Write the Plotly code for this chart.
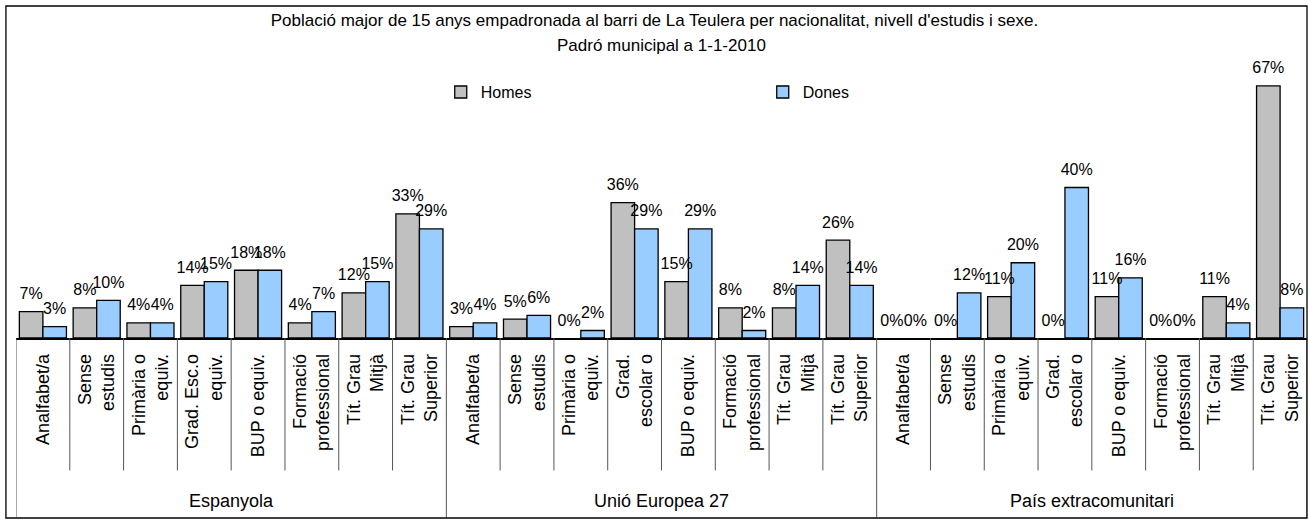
import plotly.graph_objects as go

# ---- data ----
groups = ["Espanyola", "Unió Europea 27", "País extracomunitari"]
levels_esp = ["Analfabet/a", "Sense<br>estudis", "Primària o<br>equiv.", "Grad. Esc.o<br>equiv.",
              "BUP o equiv.", "Formació<br>professional", "Tít. Grau<br>Mitjà", "Tít. Grau<br>Superior"]
levels_other = ["Analfabet/a", "Sense<br>estudis", "Primària o<br>equiv.", "Grad.<br>escolar o",
                "BUP o equiv.", "Formació<br>professional", "Tít. Grau<br>Mitjà", "Tít. Grau<br>Superior"]
tick_labels = levels_esp + levels_other + levels_other

homes = [7, 8, 4, 14, 18, 4, 12, 33,
         3, 5, 0, 36, 15, 8, 8, 26,
         0, 0, 11, 0, 11, 0, 11, 67]
dones = [3, 10, 4, 15, 18, 7, 15, 29,
         4, 6, 2, 29, 29, 2, 14, 14,
         0, 12, 20, 40, 16, 0, 4, 8]

title_line1 = ("Població major de 15 anys empadronada al barri de La Teulera per nacionalitat, "
               "nivell d'estudis i sexe.")
title_line2 = "Padró municipal a 1-1-2010"

FONT = "Liberation Sans, Arial, sans-serif"
n = len(tick_labels)
per_group = len(levels_esp)
xs = list(range(n))
GAP = 0.125

fig = go.Figure()
series = [("Homes", homes, "#C0C0C0"), ("Dones", dones, "#99CCFF")]
for name, vals, col in series:
    fig.add_trace(go.Bar(
        x=xs, y=vals, name=name, offsetgroup=name,
        marker=dict(color=col, line=dict(color="black", width=[1.3 if v > 0 else 0 for v in vals])),
    ))
for name, vals, col in series:
    fig.add_trace(go.Scatter(
        x=xs, y=vals, name=name, offsetgroup=name, mode="markers+text",
        marker=dict(size=12, opacity=0), text=[f"{v}%" for v in vals],
        textposition="top center", textfont=dict(family=FONT, size=16, color="black"),
        showlegend=False, hoverinfo="skip", cliponaxis=False,
    ))

shapes = []
# category separators
for i in range(1, n):
    if i % per_group != 0:
        shapes.append(dict(type="line", xref="x", yref="paper", x0=i - 0.5, x1=i - 0.5,
                           y0=0, y1=-0.44, line=dict(color="#555555", width=1)))
# group dividers
for g in range(len(groups) + 1):
    xv = g * per_group - 0.5
    shapes.append(dict(type="line", xref="x", yref="paper", x0=xv, x1=xv,
                       y0=0, y1=-0.595, line=dict(color="#555555", width=1)))
# outer frame
shapes.append(dict(type="rect", xref="paper", yref="paper", x0=-0.0078, x1=1.0, y0=-0.598, y1=1.103,
                   line=dict(color="black", width=1.3), fillcolor="rgba(0,0,0,0)"))

annotations = [dict(x=0.5, xref="paper", y=0.972, yref="paper", text=title_line2, showarrow=False,
                    yanchor="middle", font=dict(family=FONT, size=17, color="black"))]
for g, name in enumerate(groups):
    annotations.append(dict(x=g * per_group + (per_group - 1) / 2, xref="x", y=-0.54, yref="paper",
                            text=name, showarrow=False, yanchor="middle",
                            font=dict(family=FONT, size=18, color="black")))

fig.update_layout(
    width=1309, height=520,
    margin=dict(l=16, r=2, t=37, b=182),
    paper_bgcolor="white", plot_bgcolor="white",
    barmode="group", bargap=GAP, bargroupgap=0,
    scattermode="group", scattergap=GAP,
    title=dict(text=title_line1, x=0.5, xanchor="center", y=1 - 20 / 520, yanchor="middle",
               font=dict(family=FONT, size=17, color="black")),
    legend=dict(orientation="h", x=0.329, xanchor="left", y=0.817, yanchor="middle",
                entrywidth=277, entrywidthmode="pixels",
                font=dict(family=FONT, size=16, color="black"), bgcolor="rgba(0,0,0,0)"),
    xaxis=dict(range=[-0.5, n - 0.5], tickmode="array", tickvals=xs, ticktext=tick_labels,
               tickangle=-90, showline=True, linecolor="black", linewidth=1.5,
               showgrid=False, zeroline=False, ticks="", ticklabelstandoff=7,
               tickfont=dict(family=FONT, size=18, color="black")),
    yaxis=dict(range=[0, 80], visible=False, showgrid=False, zeroline=False),
    shapes=shapes, annotations=annotations,
    showlegend=True,
)

fig.write_html("out.html", config={"displayModeBar": False},
               post_script="document.body.style.margin='0';")
